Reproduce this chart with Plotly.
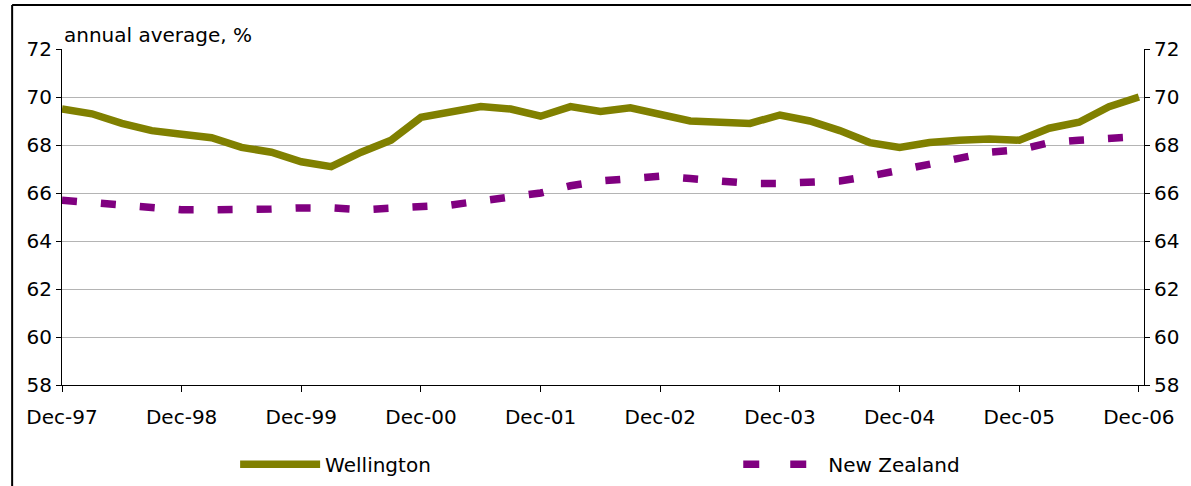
import plotly.graph_objects as go

quarters = [
    "Dec-97", "Mar-98", "Jun-98", "Sep-98",
    "Dec-98", "Mar-99", "Jun-99", "Sep-99",
    "Dec-99", "Mar-00", "Jun-00", "Sep-00",
    "Dec-00", "Mar-01", "Jun-01", "Sep-01",
    "Dec-01", "Mar-02", "Jun-02", "Sep-02",
    "Dec-02", "Mar-03", "Jun-03", "Sep-03",
    "Dec-03", "Mar-04", "Jun-04", "Sep-04",
    "Dec-04", "Mar-05", "Jun-05", "Sep-05",
    "Dec-05", "Mar-06", "Jun-06", "Sep-06",
    "Dec-06",
]

wellington = [
    69.5, 69.3, 68.9, 68.6,
    68.45, 68.3, 67.9, 67.7,
    67.3, 67.1, 67.7, 68.2,
    69.15, 69.35, 69.6, 69.5,
    69.2, 69.6, 69.4, 69.55,
    69.25, 69.0, 68.95, 68.9,
    69.25, 69.0, 68.6, 68.1,
    67.9, 68.1, 68.2, 68.25,
    68.2, 68.7, 68.95, 69.6,
    70.0,
]

new_zealand = [
    65.7, 65.6, 65.45, 65.35,
    65.3, 65.3, 65.3, 65.33,
    65.38, 65.38, 65.3, 65.35,
    65.45, 65.5, 65.67, 65.8,
    66.0, 66.3, 66.5, 66.6,
    66.7, 66.6, 66.5, 66.4,
    66.4, 66.45, 66.5, 66.7,
    66.95, 67.25, 67.45, 67.7,
    67.8, 68.1, 68.2, 68.3,
    68.35,
]

tick_labels = ["Dec-97", "Dec-98", "Dec-99", "Dec-00", "Dec-01",
               "Dec-02", "Dec-03", "Dec-04", "Dec-05", "Dec-06"]
y_ticks = [58, 60, 62, 64, 66, 68, 70, 72]

FONT = "DejaVu Sans"
FS = 20
idx = list(range(len(quarters)))
tick_idx = [quarters.index(t) for t in tick_labels]

fig = go.Figure()
fig.add_trace(go.Scatter(
    x=idx, y=wellington, mode="lines", name="Wellington",
    line=dict(color="#808000", width=7.5), legend="legend",
))
fig.add_trace(go.Scatter(
    x=idx, y=new_zealand, mode="lines", name="New Zealand",
    line=dict(color="#800080", width=7.5, dash="15px,24px"),
    showlegend=False,
))
# legend sample for New Zealand (Excel draws a sparser dash in the key)
fig.add_trace(go.Scatter(
    x=[None], y=[None], mode="lines", name="New Zealand",
    line=dict(color="#800080", width=7.5, dash="16px,31px"), legend="legend2",
))
fig.add_trace(go.Scatter(
    x=idx, y=new_zealand, mode="lines", yaxis="y2",
    line=dict(width=0), showlegend=False, hoverinfo="skip",
))

legend_common = dict(
    orientation="h", yref="container", yanchor="middle", y=0.045,
    xanchor="left",
    font=dict(family=FONT, size=FS), itemwidth=80,
    bgcolor="rgba(0,0,0,0)",
)

fig.update_layout(
    width=1191, height=486,
    margin=dict(l=62, r=44, t=49, b=101),
    paper_bgcolor="white", plot_bgcolor="white",
    font=dict(family=FONT, size=FS, color="black"),
    showlegend=True,
    legend=dict(x=0.16, **legend_common),
    legend2=dict(x=0.625, **legend_common),
    xaxis=dict(
        range=[0, 36.17], tickmode="array", tickvals=tick_idx, ticktext=tick_labels,
        showgrid=False, zeroline=False, showline=True, linecolor="black", linewidth=1,
        ticks="outside", ticklen=6, tickcolor="black", ticklabelstandoff=8,
    ),
    yaxis=dict(
        range=[58, 72], tickvals=y_ticks, showgrid=True, gridcolor="#b4b4b4", gridwidth=1,
        zeroline=False, showline=True, linecolor="black", linewidth=1,
        ticks="outside", ticklen=5, tickcolor="black",
    ),
    yaxis2=dict(
        range=[58, 72], tickvals=y_ticks, overlaying="y", side="right",
        showgrid=False, zeroline=False, showline=True, linecolor="black", linewidth=1,
        ticks="outside", ticklen=5, tickcolor="black",
    ),
    annotations=[dict(
        text="annual average, %", xref="paper", yref="paper",
        x=0.0, y=1.0, xanchor="left", yanchor="bottom", showarrow=False,
        font=dict(family=FONT, size=FS),
    )],
    shapes=[
        dict(type="line", xref="paper", yref="paper",
             x0=(12 - 62) / 1085, x1=(12 - 62) / 1085,
             y0=(385 - 5) / 336, y1=(385 - 495) / 336,
             line=dict(color="black", width=2)),
        dict(type="line", xref="paper", yref="paper",
             x0=(12 - 62) / 1085, x1=(1200 - 62) / 1085,
             y0=(385 - 5) / 336, y1=(385 - 5) / 336,
             line=dict(color="black", width=2)),
    ],
)

fig.write_html(
    "out.html",
    config={"displayModeBar": False},
    post_script="document.body.style.margin='0';document.body.style.overflow='hidden';",
)
